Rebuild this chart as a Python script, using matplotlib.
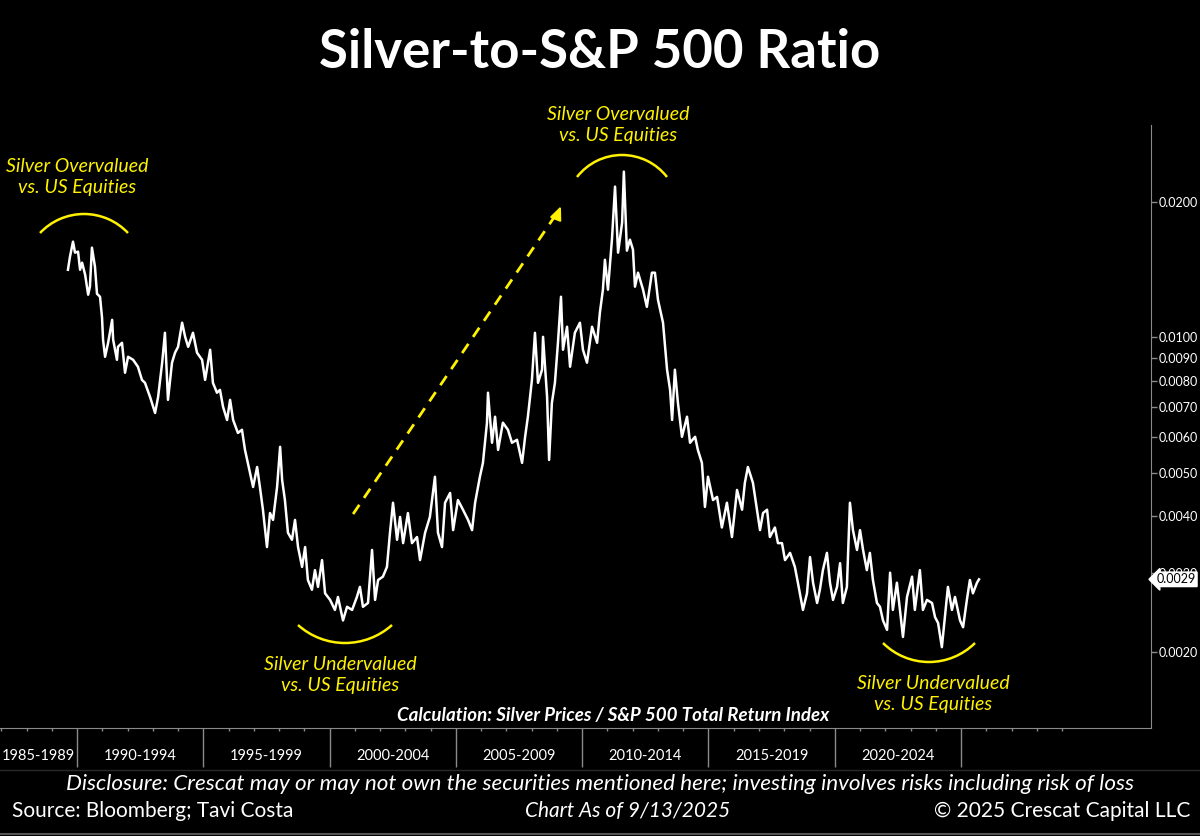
import math

import matplotlib

matplotlib.use("Agg")
import matplotlib.pyplot as plt
import matplotlib.transforms as mtransforms
from matplotlib.patches import Arc

plt.rcParams["font.family"] = ["Lato", "DejaVu Sans"]

# silver / S&P 500 total return (decimal year, ratio)
years = [
    1989.64, 1989.72, 1989.84, 1989.92, 1990.04, 1990.12, 1990.20, 1990.32, 1990.44, 1990.51,
    1990.59, 1990.71, 1990.79, 1990.91, 1990.99, 1991.03, 1991.11, 1991.23, 1991.39, 1991.43,
    1991.58, 1991.62, 1991.78, 1991.90, 1992.02, 1992.22, 1992.41, 1992.57, 1992.69, 1992.89,
    1993.09, 1993.21, 1993.37, 1993.48, 1993.60, 1993.76, 1993.88, 1994.00, 1994.16, 1994.28,
    1994.40, 1994.59, 1994.75, 1994.95, 1995.07, 1995.27, 1995.38, 1995.54, 1995.66, 1995.78,
    1995.94, 1996.06, 1996.18, 1996.37, 1996.53, 1996.65, 1996.85, 1996.97, 1997.13, 1997.24,
    1997.36, 1997.52, 1997.64, 1997.76, 1997.92, 1998.04, 1998.12, 1998.23, 1998.35, 1998.51,
    1998.63, 1998.75, 1998.91, 1999.03, 1999.14, 1999.30, 1999.42, 1999.54, 1999.70, 1999.82,
    2000.02, 2000.21, 2000.33, 2000.53, 2000.69, 2000.89, 2001.08, 2001.20, 2001.32, 2001.52,
    2001.68, 2001.80, 2001.92, 2002.11, 2002.27, 2002.39, 2002.51, 2002.67, 2002.79, 2002.91,
    2003.10, 2003.26, 2003.46, 2003.58, 2003.78, 2003.97, 2004.17, 2004.29, 2004.45, 2004.57,
    2004.77, 2004.89, 2005.08, 2005.28, 2005.48, 2005.64, 2005.76, 2005.95, 2006.07, 2006.23,
    2006.27, 2006.43, 2006.55, 2006.67, 2006.86, 2007.06, 2007.22, 2007.42, 2007.62, 2007.74,
    2007.85, 2008.01, 2008.13, 2008.25, 2008.41, 2008.45, 2008.61, 2008.69, 2008.80, 2008.92,
    2009.04, 2009.16, 2009.24, 2009.40, 2009.52, 2009.71, 2009.91, 2010.03, 2010.19, 2010.39,
    2010.59, 2010.70, 2010.82, 2010.90, 2011.02, 2011.18, 2011.30, 2011.42, 2011.58, 2011.65,
    2011.77, 2011.89, 2012.01, 2012.09, 2012.21, 2012.41, 2012.56, 2012.76, 2012.88, 2013.00,
    2013.20, 2013.36, 2013.48, 2013.56, 2013.67, 2013.79, 2013.95, 2014.15, 2014.27, 2014.47,
    2014.58, 2014.74, 2014.86, 2014.98, 2015.18, 2015.34, 2015.53, 2015.73, 2015.93, 2016.13,
    2016.33, 2016.44, 2016.56, 2016.76, 2016.92, 2017.04, 2017.16, 2017.32, 2017.43, 2017.63,
    2017.75, 2017.91, 2018.03, 2018.23, 2018.42, 2018.54, 2018.74, 2018.90, 2019.02, 2019.14,
    2019.30, 2019.41, 2019.53, 2019.69, 2019.81, 2019.93, 2020.09, 2020.21, 2020.32, 2020.48,
    2020.60, 2020.72, 2020.88, 2021.00, 2021.12, 2021.27, 2021.39, 2021.51, 2021.67, 2021.79,
    2021.91, 2022.07, 2022.19, 2022.30, 2022.46, 2022.58, 2022.70, 2022.86, 2023.06, 2023.17,
    2023.37, 2023.49, 2023.65, 2023.85, 2023.97, 2024.09, 2024.24, 2024.36, 2024.48, 2024.64,
    2024.76, 2024.96, 2025.08, 2025.23, 2025.35, 2025.47, 2025.63, 2025.71,
]
ratio = [
    0.01412, 0.01509, 0.01630, 0.01541, 0.01549, 0.01412, 0.01464, 0.01377, 0.01243, 0.01295,
    0.01581, 0.01434, 0.01249, 0.01230, 0.01105, 0.00987, 0.00905, 0.00972, 0.01093, 0.00987,
    0.00891, 0.00952, 0.00972, 0.00834, 0.00905, 0.00891, 0.00860, 0.00804, 0.00792, 0.00737,
    0.00679, 0.00737, 0.00878, 0.01023, 0.00726, 0.00878, 0.00924, 0.00952, 0.01077, 0.01002,
    0.00952, 0.01023, 0.00924, 0.00891, 0.00804, 0.00938, 0.00792, 0.00753, 0.00764, 0.00701,
    0.00655, 0.00726, 0.00655, 0.00613, 0.00623, 0.00562, 0.00500, 0.00465, 0.00515, 0.00465,
    0.00414, 0.00342, 0.00407, 0.00393, 0.00465, 0.00571, 0.00482, 0.00435, 0.00368, 0.00355,
    0.00393, 0.00342, 0.00309, 0.00342, 0.00289, 0.00275, 0.00304, 0.00279, 0.00320, 0.00270,
    0.00261, 0.00248, 0.00265, 0.00235, 0.00252, 0.00248, 0.00265, 0.00279, 0.00252, 0.00257,
    0.00337, 0.00261, 0.00289, 0.00294, 0.00309, 0.00368, 0.00429, 0.00355, 0.00399, 0.00349,
    0.00407, 0.00349, 0.00360, 0.00320, 0.00368, 0.00399, 0.00490, 0.00368, 0.00342, 0.00429,
    0.00451, 0.00373, 0.00435, 0.00414, 0.00393, 0.00373, 0.00429, 0.00490, 0.00526, 0.00646,
    0.00753, 0.00583, 0.00666, 0.00562, 0.00646, 0.00623, 0.00583, 0.00592, 0.00526, 0.00601,
    0.00666, 0.00804, 0.01023, 0.00792, 0.00847, 0.01002, 0.00737, 0.00534, 0.00715, 0.00792,
    0.00972, 0.01230, 0.00938, 0.01055, 0.00860, 0.01023, 0.01077, 0.00938, 0.00878, 0.01055,
    0.00972, 0.01134, 0.01275, 0.01486, 0.01275, 0.01655, 0.02160, 0.01541, 0.01796, 0.02332,
    0.01557, 0.01647, 0.01565, 0.01295, 0.01391, 0.01275, 0.01168, 0.01391, 0.01391, 0.01211,
    0.01077, 0.00847, 0.00764, 0.00655, 0.00847, 0.00715, 0.00601, 0.00666, 0.00583, 0.00601,
    0.00562, 0.00526, 0.00420, 0.00490, 0.00435, 0.00442, 0.00378, 0.00429, 0.00360, 0.00458,
    0.00414, 0.00475, 0.00515, 0.00475, 0.00414, 0.00373, 0.00407, 0.00414, 0.00360, 0.00378,
    0.00349, 0.00349, 0.00320, 0.00332, 0.00309, 0.00285, 0.00248, 0.00270, 0.00325, 0.00285,
    0.00257, 0.00275, 0.00304, 0.00332, 0.00285, 0.00261, 0.00279, 0.00315, 0.00257, 0.00279,
    0.00429, 0.00373, 0.00337, 0.00373, 0.00337, 0.00304, 0.00332, 0.00289, 0.00257, 0.00252,
    0.00235, 0.00224, 0.00300, 0.00248, 0.00285, 0.00248, 0.00216, 0.00265, 0.00294, 0.00248,
    0.00304, 0.00248, 0.00261, 0.00257, 0.00239, 0.00232, 0.00205, 0.00239, 0.00279, 0.00248,
    0.00265, 0.00235, 0.00227, 0.00261, 0.00289, 0.00270, 0.00285, 0.00290,
]

y_ticks = [0.002, 0.003, 0.004, 0.005, 0.006, 0.007, 0.008, 0.009, 0.010, 0.020]
period_starts = [1985, 1990, 1995, 2000, 2005, 2010, 2015, 2020]
period_labels = ["1985-1989", "1990-1994", "1995-1999", "2000-2004",
                 "2005-2009", "2010-2014", "2015-2019", "2020-2024"]
last_label = "0.0029"

YELLOW = "#FFF200"
GREY = "#8a8a8a"
W, H = 1200, 836

fig = plt.figure(figsize=(12, 8.36), dpi=100, facecolor="black")
ax = fig.add_axes([0, 108 / H, 1151 / W, 603 / H], facecolor="black")

ax.plot(years, ratio, color="white", lw=1.8, zorder=3)

ax.set_yscale("log")
ax.set_ylim(0.001356, 0.0296)
ax.set_xlim(1986.95, 2032.52)

for s in ["top", "left"]:
    ax.spines[s].set_visible(False)
ax.spines["right"].set_color(GREY)
ax.spines["bottom"].set_color(GREY)

ax.yaxis.tick_right()
ax.set_yticks(y_ticks)
ax.set_yticklabels(["%.4f" % v for v in y_ticks])
ax.yaxis.set_minor_locator(matplotlib.ticker.NullLocator())
ax.tick_params(axis="y", colors=GREY, labelcolor="white", labelsize=9,
               length=4, width=1, pad=1.5)

ax.set_xticks(period_starts[1:] + [2025])
ax.set_xticks([y for y in range(1987, 2030) if y % 5], minor=True)
ax.tick_params(axis="x", which="major", colors=GREY, length=28, width=1,
               labelbottom=False)
ax.tick_params(axis="x", which="minor", colors=GREY, length=2.5, width=1)

# period labels centred in the visible part of each 5-year block
trans = mtransforms.blended_transform_factory(ax.transData, ax.transAxes)
x0 = ax.get_xlim()[0]
for start, lab in zip(period_starts, period_labels):
    c = (max(start, x0) + start + 5) / 2
    ax.text(c, -0.046, lab, transform=trans, ha="center", va="center",
            color="white", fontsize=10.5, clip_on=False)

# current value tag on the right axis
ax.annotate(last_label, xy=(1.0, ratio[-1]), xycoords=("axes fraction", "data"),
            xytext=(4, 0), textcoords="offset points", ha="left", va="center",
            color="black", fontsize=9, zorder=10,
            bbox=dict(boxstyle="larrow,pad=0.1", fc="white", ec="white"))

# dashed trend arrow
ax.plot([2000.93, 2009.12], [0.00405, 0.0193], color=YELLOW, lw=2,
        dashes=(4, 3), zorder=4)
ax.annotate("", xy=(2009.2, 0.0198), xytext=(2008.95, 0.0183),
            arrowprops=dict(arrowstyle="-|>,head_length=0.8,head_width=0.35",
                            color=YELLOW, lw=1.5), zorder=4)


def px(x, y):
    return x / W, 1 - y / H


def arc(x1, x2, y_end, y_mid, up=True):
    chord = x2 - x1
    sag = abs(y_end - y_mid)
    r = (chord ** 2 / 4 + sag ** 2) / (2 * sag)
    half = math.degrees(math.asin(chord / 2 / r))
    cx = (x1 + x2) / 2
    if up:
        cy = y_mid + r
        t1, t2 = 90 - half, 90 + half
    else:
        cy = y_mid - r
        t1, t2 = 270 - half, 270 + half
    a = Arc((cx / 100, (H - cy) / 100), 2 * r / 100, 2 * r / 100, theta1=t1,
            theta2=t2, transform=fig.dpi_scale_trans, color=YELLOW, lw=1.8)
    fig.add_artist(a)


arc(40, 128, 233, 214, up=True)
arc(577, 667, 177, 155, up=True)
arc(298, 392, 625, 643, up=False)
arc(883, 975, 643, 662, up=False)

notes = [
    (77, 177, "Silver Overvalued\nvs. US Equities"),
    (618, 125, "Silver Overvalued\nvs. US Equities"),
    (340, 675, "Silver Undervalued\nvs. US Equities"),
    (933, 694, "Silver Undervalued\nvs. US Equities"),
]
for x, y, t in notes:
    fig.text(*px(x, y), t, ha="center", va="center", color=YELLOW,
             fontsize=14, style="italic", linespacing=1.3)

fig.text(*px(600, 52), "Silver-to-S&P 500 Ratio", ha="center", va="center",
         color="white", fontsize=38, fontweight="bold")
fig.text(*px(613, 715), "Calculation: Silver Prices / S&P 500 Total Return Index",
         ha="center", va="center", color="white", fontsize=13.5,
         fontweight="bold", style="italic")

# footer
fig.add_artist(plt.Line2D([0, 1], [1 - 770 / H] * 2, color="#2a2a2a", lw=1))
fig.add_artist(plt.Line2D([0, 1], [1 - 834 / H] * 2, color="#555555", lw=1.5))
fig.text(*px(600, 784), "Disclosure: Crescat may or may not own the securities "
         "mentioned here; investing involves risks including risk of loss",
         ha="center", va="center", color="white", fontsize=16.2, style="italic")
fig.text(*px(12, 811), "Source: Bloomberg; Tavi Costa", ha="left", va="center",
         color="white", fontsize=15)
fig.text(*px(628, 811), "Chart As of 9/13/2025", ha="center", va="center",
         color="white", fontsize=15, style="italic")
fig.text(*px(1190, 811), "\u00a9 2025 Crescat Capital LLC", ha="right",
         va="center", color="white", fontsize=15)

fig.savefig("out.png", dpi=100, facecolor="black")
